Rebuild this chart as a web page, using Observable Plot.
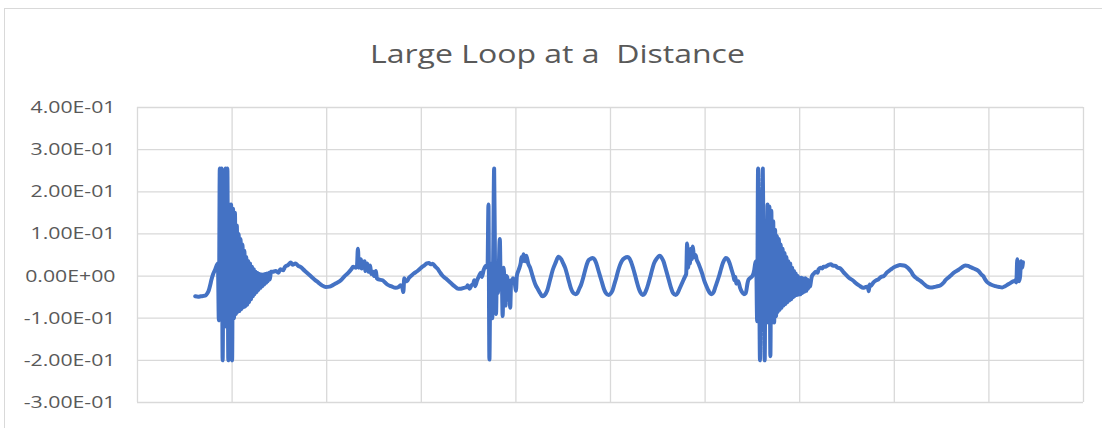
<!DOCTYPE html>
<html>
<head>
<meta charset="utf-8">
<script src="https://cdn.jsdelivr.net/npm/d3@7"></script>
<script src="https://cdn.jsdelivr.net/npm/@observablehq/plot@0.6"></script>
<style>
  html, body { margin: 0; padding: 0; background: #fff; overflow: hidden; }
  #wrap { position: relative; width: 1102px; height: 428px; overflow: hidden; }
  #frame { position: absolute; left: 4px; top: 8px; width: 1200px; height: 600px; border: 1px solid #d9d9d9; box-sizing: border-box; }
  #title { position: absolute; left: 0; width: 1115px; top: 36px; text-align: center; white-space: pre;
           font-family: "Open Sans", Lato, sans-serif; font-size: 25px; color: #595959; line-height: normal; }
  #title span { display: inline-block; transform-origin: center; }
  #chart { position: absolute; left: 0; top: 0; }
</style>
</head>
<body>
<div id="wrap">
  <div id="frame"></div>
  <div id="title"><span id="titleText"></span></div>
  <div id="chart"></div>
</div>
<script>
const title = "Large Loop at a  Distance";
const yTicks = [-0.3, -0.2, -0.1, 0, 0.1, 0.2, 0.3, 0.4];
const yTickLabels = ["-3.00E-01", "-2.00E-01", "-1.00E-01", "0.00E+00", "1.00E-01", "2.00E-01", "3.00E-01", "4.00E-01"];
const xTicks = [0, 100, 200, 300, 400, 500, 600, 700, 800, 900, 1000];

const leadIn = [[61,-0.048],[64,-0.049],[67,-0.048],[70,-0.047],[72,-0.046],[74,-0.04],[75,-0.036],[77,-0.02],[78,-0.01],[80,0.005],[82,0.015],[85,0.03]];

const burst1Start = 86;
const burst1Values = [-0.105, 0.255, -0.1, 0.255, -0.2, 0.12, -0.11, 0.255, -0.12, 0.255, -0.2, 0.17, -0.11, 0.17, -0.2, 0.16, -0.1, 0.15, -0.09, 0.12, -0.085, 0.1, -0.083, 0.088, -0.078, 0.075, -0.074, 0.06, -0.072, 0.045, -0.068, 0.036, -0.062, 0.03, -0.055, 0.022, -0.048, 0.016, -0.043, 0.01, -0.038, 0.007, -0.033, 0.005, -0.028, 0.004, -0.024, 0.004, -0.02, 0.005, -0.016, 0.006, -0.012, 0.008, -0.008, 0.01];

const wave1 = [[143,0.01],[146,0.012],[149,0.008],[151,0.016],[154,0.014],[156,0.022],[159,0.026],[162,0.032],[164,0.027],[167,0.03],[170,0.024],[172,0.022],[177,0.012],[183,0.0],[187,-0.008],[191,-0.015],[195,-0.022],[199,-0.026],[203,-0.025],[206,-0.022],[210,-0.017],[215,-0.01],[219,0.0],[223,0.008],[226,0.016],[228,0.022],[231,0.02],[232,0.024],[233,0.065],[234,0.02],[236,0.04],[237,0.018],[238,0.03],[240,0.035],[241,0.012],[243,0.03],[244,0.01],[246,0.025],[247,0.005],[249,0.01],[250,0.0],[252,0.012],[253,-0.005],[255,-0.008],[259,-0.01],[262,-0.016],[264,-0.02],[268,-0.024],[273,-0.028],[276,-0.026],[278,-0.022],[280,-0.028],[281,-0.038],[282,-0.005],[283,-0.012],[285,-0.012],[287,-0.004],[289,0.0],[292,0.006],[296,0.012],[300,0.02],[303,0.025],[306,0.03],[308,0.031],[310,0.028],[312,0.029],[315,0.022],[317,0.018],[320,0.008],[322,0.002],[326,-0.006],[331,-0.016],[335,-0.024],[339,-0.03],[342,-0.03],[345,-0.028],[348,-0.026],[349,-0.022],[351,-0.03],[353,-0.022],[355,-0.018],[356,-0.01],[357,-0.024],[359,-0.01],[361,0.0],[363,0.008],[364,-0.002],[366,0.015],[368,0.024],[370,0.02]];

const burst2 = [[371,0.17],[372,-0.198],[373,0.0],[374,0.03],[375,-0.1],[376,0.05],[377,0.255],[378,0.0],[379,-0.09],[380,0.02],[381,-0.04],[383,0.088],[384,-0.02],[385,0.0],[386,-0.095],[387,0.02],[388,-0.02],[389,-0.07],[390,0.0],[391,-0.005],[392,-0.03],[393,-0.04],[394,-0.075],[395,-0.01],[396,-0.01],[397,-0.005],[399,-0.02],[400,-0.035],[401,0.0],[403,0.015],[405,0.03],[406,0.045],[407,0.035],[408,0.052],[409,0.04],[410,0.035],[411,0.048],[412,0.04],[413,0.03],[415,0.02],[417,0.005],[419,-0.01],[421,-0.022],[423,-0.03],[426,-0.042],[428,-0.048],[430,-0.046],[433,-0.035],[436,-0.01],[439,0.015],[442,0.032],[445,0.046]];

const wave2 = [[448,0.04],[450,0.03],[452,0.02],[454,0.005],[456,-0.012],[458,-0.028],[460,-0.038],[463,-0.043],[465,-0.04],[467,-0.03],[469,-0.02],[471,-0.005],[473,0.012],[475,0.028],[477,0.038],[479,0.041],[481,0.043],[483,0.04],[485,0.03],[487,0.015],[489,0.0],[491,-0.015],[493,-0.03],[495,-0.04],[498,-0.045],[500,-0.042],[502,-0.035],[504,-0.02],[506,-0.005],[508,0.012],[510,0.026],[512,0.036],[515,0.043],[518,0.045],[520,0.042],[522,0.032],[524,0.018],[526,0.002],[528,-0.015],[530,-0.03],[532,-0.04],[534,-0.045],[536,-0.042],[538,-0.032],[540,-0.018],[542,-0.002],[544,0.015],[546,0.03],[549,0.042],[552,0.048],[554,0.044],[556,0.035],[558,0.02],[560,0.004],[562,-0.012],[564,-0.028],[566,-0.04],[569,-0.045],[571,-0.04],[573,-0.03],[575,-0.02],[577,-0.01],[579,0.0],[580,0.005],[581,0.077],[582,0.02],[583,0.045],[584,0.03],[585,0.065],[586,0.04],[587,0.07],[588,0.05],[589,0.045],[590,0.05],[591,0.04],[593,0.03],[595,0.018],[597,0.005],[599,-0.01],[601,-0.022],[603,-0.032],[605,-0.04],[607,-0.043],[609,-0.038],[611,-0.025],[613,-0.012],[615,0.002],[617,0.018],[619,0.032],[622,0.043],[624,0.04],[626,0.03],[628,0.015],[630,0.0],[631,-0.01],[632,-0.002],[633,-0.018],[635,-0.012],[637,-0.028],[639,-0.038],[641,-0.043],[643,-0.04],[645,-0.015],[646,-0.008],[648,-0.004],[650,0.0],[652,0.015],[653,0.03],[654,0.035]];

const burst3Start = 655;
const burst3Values = [-0.107, 0.255, 0.1, -0.2, 0.15, -0.1, 0.255, 0.0, -0.2, 0.12, -0.11, 0.17, -0.11, 0.165, -0.19, 0.155, -0.11, 0.13, -0.11, 0.11, -0.095, 0.095, -0.085, 0.088, -0.08, 0.075, -0.075, 0.065, -0.07, 0.055, -0.066, 0.045, -0.062, 0.035, -0.058, 0.03, -0.055, 0.02, -0.05, 0.012, -0.047, 0.006, -0.045, 0.0, -0.044, -0.004, -0.043, -0.004, -0.04, -0.006, -0.037, -0.005, -0.035, -0.008, -0.03, -0.012, -0.025, -0.01];

const wave3 = [[713,0.0],[715,0.006],[717,0.01],[719,0.008],[720,0.016],[722,0.02],[724,0.018],[725,0.022],[727,0.022],[730,0.026],[733,0.028],[735,0.025],[738,0.024],[740,0.02],[743,0.018],[746,0.01],[748,0.005],[752,-0.004],[756,-0.01],[760,-0.018],[764,-0.024],[767,-0.028],[770,-0.026],[772,-0.025],[773,-0.036],[774,-0.02],[775,-0.024],[778,-0.015],[781,-0.01],[783,-0.008],[786,-0.002],[789,0.0],[792,0.008],[796,0.015],[799,0.02],[803,0.024],[806,0.026],[810,0.025],[813,0.022],[815,0.018],[818,0.01],[820,0.002],[824,-0.006],[828,-0.012],[832,-0.02],[835,-0.025],[838,-0.027],[840,-0.027],[844,-0.025],[849,-0.022],[852,-0.016],[854,-0.01],[857,-0.004],[859,0.0],[863,0.008],[868,0.015],[871,0.02],[875,0.025],[878,0.024],[880,0.022],[884,0.018],[889,0.012],[892,0.004],[894,0.0],[896,-0.008],[898,-0.014],[902,-0.02],[907,-0.024],[911,-0.026],[914,-0.027],[917,-0.024],[920,-0.02],[923,-0.016],[925,-0.013],[927,-0.012],[928,-0.01],[929,-0.015],[930,0.04],[931,-0.01],[932,-0.012],[933,0.0],[934,0.035],[935,0.02],[936,0.033]];

// Build the series table
const toRows = pairs => pairs.map(([t, v]) => ({t, v}));
const fromValues = (start, vals) => vals.map((v, i) => ({t: start + i, v}));
const series = [
  ...toRows(leadIn),
  ...fromValues(burst1Start, burst1Values),
  ...toRows(wave1),
  ...toRows(burst2),
  ...toRows(wave2),
  ...fromValues(burst3Start, burst3Values),
  ...toRows(wave3)
];

// Title: stretched horizontally to the reference's wide lettering
const titleSpan = document.getElementById("titleText");
titleSpan.textContent = title;
const tw = titleSpan.getBoundingClientRect().width;
titleSpan.style.transform = `scaleX(${375 / tw})`;

const labelOf = new Map(yTicks.map((d, i) => [d, yTickLabels[i]]));

const chart = Plot.plot({
  width: 1102,
  height: 428,
  marginLeft: 137,
  marginRight: 19,
  marginTop: 107,
  marginBottom: 26,
  style: {background: "transparent", fontFamily: "'Open Sans', Lato, sans-serif", fontSize: "17px", color: "#595959"},
  x: {domain: [0, 1000], axis: null},
  y: {domain: [-0.3, 0.4], axis: null},
  marks: [
    Plot.gridY(yTicks, {stroke: "#d9d9d9", strokeOpacity: 1, strokeWidth: 1.3}),
    Plot.gridX(xTicks, {stroke: "#d9d9d9", strokeOpacity: 1, strokeWidth: 1.3}),
    Plot.axisY(yTicks, {tickSize: 0, tickPadding: 22, tickFormat: d => labelOf.get(d), fill: "#595959", fontSize: 17, label: null}),
    Plot.line(series, {x: "t", y: "v", stroke: "#4472c4", strokeWidth: 4, curve: "monotone-x", strokeLinejoin: "round"})
  ]
});
document.getElementById("chart").appendChild(chart);

// Stretch the tick labels slightly so "4.00E-01" spans the reference's width
const tickTexts = chart.querySelectorAll('g[aria-label="y-axis tick label"] text');
let refLen = null;
tickTexts.forEach(t => { if (t.textContent === "4.00E-01") refLen = t.getComputedTextLength(); });
if (refLen) {
  const k = 85 / refLen;
  tickTexts.forEach(t => {
    const len = t.getComputedTextLength();
    t.setAttribute("textLength", len * k);
    t.setAttribute("lengthAdjust", "spacingAndGlyphs");
  });
}
</script>
</body>
</html>
